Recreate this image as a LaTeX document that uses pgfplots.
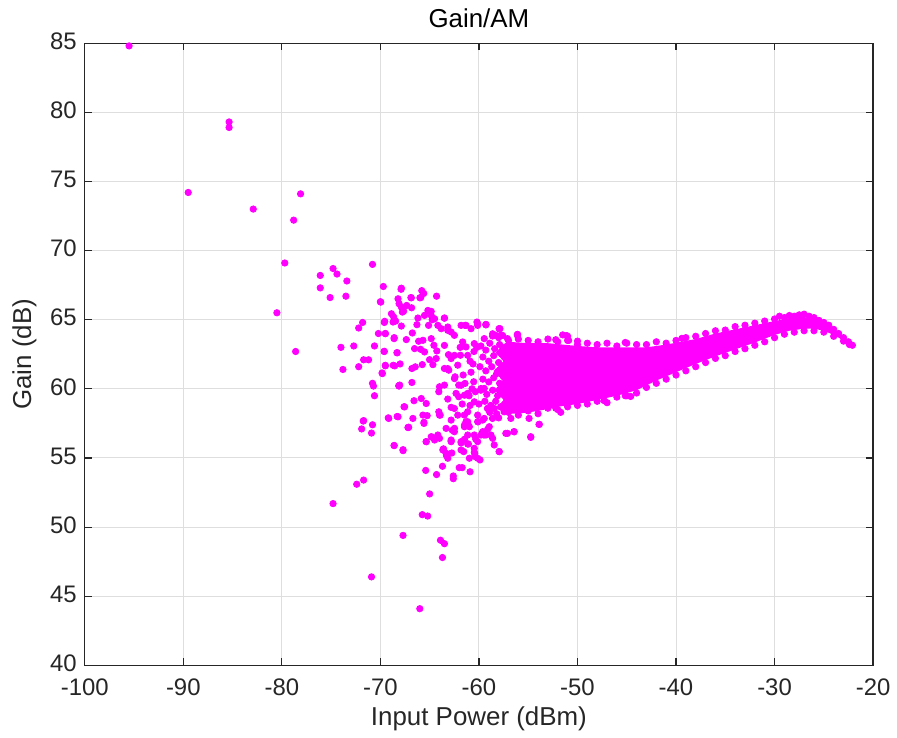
\documentclass[border=0pt]{standalone}
\usepackage{pgfplots}
\pgfplotsset{compat=1.18}
\usepackage{fontspec}
\setmainfont{Liberation Sans}
\definecolor{axgray}{gray}{0.15}
\definecolor{mg}{rgb}{1,0,1}
\begin{document}
\begin{tikzpicture}
\begin{axis}[
 scale only axis, width=395.8pt, height=312.4pt,
 xmin=-100,xmax=-20,ymin=40,ymax=85,
 xtick={-100,-90,...,-20}, ytick={40,45,...,85},
 tick align=inside, major tick length=3.5pt,
 grid=major, grid style={black!13, line width=0.5pt},
 axis line style={axgray, line width=0.6pt},
 tick style={axgray, line width=0.6pt},
 ticklabel style={font=\fontsize{12}{14}\selectfont, text=axgray},
 xticklabel style={yshift=-3pt},
 yticklabel style={xshift=-0.5pt, yshift=1pt},
 /pgf/number format/assume math mode=true,
 xlabel={Input Power (dBm)}, ylabel={Gain (dB)},
 xlabel style={yshift=1pt},
 label style={font=\fontsize{13}{15}\selectfont, text=axgray},
 title={Gain/AM}, title style={font=\fontsize{13}{15}\selectfont, yshift=-2pt},
 clip=false,
]
\path (axis cs:-108.6,35.31) rectangle (axis cs:-18.0,88.12);
% dense core of the cloud
\addplot[fill=mg, draw=none] coordinates {
(-57.6,63.2) (-57,63.4) (-55,63.3) (-53,63.3) (-50,63.1) (-48,63.0) (-45,63.0) (-43,63.0) (-41,63.2) (-39.5,63.4) (-38,63.6) (-36,64.0) (-34,64.3) (-32,64.6) (-30,64.9) (-28.5,65.1) (-27,65.2) (-26,65.0) (-25,64.7) (-24,64.3) (-23,63.7) (-22.2,63.2)
(-22.2,63.1) (-23,63.5) (-24,63.9) (-25,64.2) (-26,64.35) (-27,64.35) (-28.5,64.2) (-30,63.9) (-32,63.35) (-34,62.85) (-36,62.35) (-38,61.8) (-40,61.2) (-42,60.6) (-44,59.9) (-46,59.5) (-48,59.2) (-50,58.9) (-52,58.7) (-54,58.4) (-56,58.2) (-57.3,58.2)
(-58.2,58.6) (-57.5,59.2) (-58.4,59.9) (-57.6,60.6) (-58.5,61.3) (-57.5,62.0) (-58.3,62.6)
} -- cycle;
% edge dots of the core
\addplot[only marks, mark=*, mark size=1.6pt, color=mg] coordinates {
(-58,63.7) (-57,63.5) (-56,63.6) (-55,63.5) (-54,63.4) (-53,63.6) (-52,63.4) (-51,63.5) (-50,63.2) (-49,63.3) (-48,63.2) (-47,63.3) (-46,63.1) (-45,63.3) (-44,63.2) (-43,63.2) (-42,63.4) (-41,63.3) (-40,63.5) (-39,63.7) (-38,63.8) (-37,64.0) (-36,64.2) (-35,64.25) (-34,64.5) (-33,64.6) (-32,64.75) (-31,64.9) (-30,65.05) (-29.5,65.25) (-29,65.15) (-28.5,65.3) (-28,65.25) (-27.5,65.35) (-27,65.4) (-26.5,65.25) (-26,65.15) (-25.5,64.95) (-25,64.8) (-24.5,64.6) (-24,64.3) (-23.5,64.0) (-23,63.7) (-22.5,63.4) (-22.1,63.15)
(-58,57.9) (-57,58.3) (-56,58.1) (-55,58.4) (-54,58.2) (-53,58.6) (-52,58.5) (-51,58.7) (-50,58.8) (-49,58.9) (-48,59.1) (-47,59.0) (-46,59.4) (-45,59.5) (-44,59.7) (-43,60.1) (-42,60.4) (-41,60.7) (-40,61.0) (-39,61.3) (-38,61.6) (-37,61.9) (-36,62.2) (-35,62.4) (-34,62.7) (-33,62.9) (-32,63.15) (-31,63.4) (-30,63.7) (-29,63.95) (-28,64.1) (-27,64.2) (-26,64.2) (-25,64.1) (-24,63.8) (-23,63.45) (-22.4,63.2)
(-51.5,63.9) (-51.1,63.85) (-50.9,63.5) (-50.0,63.45) (-45.15,63.35) (-39.4,63.65) (-52.2,63.55) (-51.0,63.8)
(-51.7,58.3) (-52.2,58.6) (-53.4,58.8) (-44.6,59.45) (-45.15,59.5) (-47.3,59.15)
(-59.8,63.1) (-59.3,62.8) (-58.9,63.3) (-58.4,62.9) (-57.9,63.2)
(-59.6,62.3) (-59.0,62.0) (-58.5,62.4) (-58.0,61.9) (-57.6,62.5)
(-59.9,61.6) (-59.3,61.3) (-58.7,61.6) (-58.2,61.1) (-57.7,61.4)
(-59.6,60.7) (-59.0,60.5) (-58.5,60.8) (-57.9,60.4) (-57.5,60.9)
(-59.8,59.9) (-59.2,59.6) (-58.6,59.9) (-58.1,59.5) (-57.6,59.9)
(-59.4,59.1) (-58.8,58.8) (-58.3,59.1) (-57.8,58.7) (-58.9,58.3) (-58.2,58.2)
(-60.6,61.8) (-60.7,60.0) (-61.0,59.5) (-60.5,62.7)
};
% scattered points
\addplot[only marks, mark=*, mark size=1.6pt, color=mg] coordinates {
(-95.5,84.8) (-85.35,79.3) (-85.35,78.9) (-89.5,74.2) (-82.9,73.0) (-78.1,74.1) (-78.8,72.2) (-79.7,69.1)
(-74.8,68.7) (-74.4,68.3) (-76.1,68.2) (-70.8,69.0) (-73.4,67.8) (-76.1,67.3) (-75.1,66.6) (-73.5,66.7)
(-80.5,65.5) (-78.6,62.7) (-69.7,67.4) (-67.9,67.2) (-70.0,66.3) (-74.0,63.0) (-72.7,63.1) (-72.2,64.4)
(-71.8,64.8) (-70.2,64.0) (-70.6,63.1) (-71.7,62.1) (-71.2,62.1) (-72.2,61.6) (-73.8,61.4) (-70.8,60.4)
(-70.7,60.2) (-70.6,59.5) (-69.8,61.1) (-69.6,64.8) (-69.5,64.0) (-69.6,62.7) (-69.5,61.7) (-68.6,63.7)
(-68.7,61.7) (-68.0,61.8) (-68.3,62.6) (-68.1,60.2) (-67.6,58.7) (-69.2,57.9) (-68.3,58.0) (-67.2,57.2)
(-71.7,57.7) (-70.8,57.4) (-71.9,57.1) (-70.9,56.8) (-68.6,55.9) (-67.7,55.6) (-66.9,66.6) (-65.9,66.6)
(-65.8,67.1) (-65.6,66.9) (-64.3,66.7) (-72.4,53.1) (-71.7,53.4) (-74.8,51.7) (-70.9,46.4) (-66.0,44.1)
(-67.7,49.4) (-63.9,49.05) (-63.5,48.8) (-63.7,47.8) (-65.75,50.9) (-65.2,50.8) (-65.0,52.4) (-65.4,54.1)
(-63.7,54.4) (-64.3,53.8) (-62.6,53.7) (-62.6,53.5) (-62.0,54.3) (-61.7,54.3) (-60.9,54.0)
(-67.87,67.28) (-69.96,66.27) (-68.21,66.51) (-68.1,66.15) (-67.87,65.91) (-67.64,65.62) (-67.77,65.55)
(-66.86,66.58) (-67.33,66.03) (-65.99,66.58) (-66.83,65.86) (-68.88,65.43) (-68.65,65.19) (-68.45,64.9)
(-68.71,64.83) (-69.56,64.88) (-69.49,63.99) (-69.62,62.71) (-69.49,61.66) (-69.83,61.15) (-68.55,61.66)
(-68.31,62.62) (-68.61,63.63) (-67.37,63.56) (-67.87,64.54) (-66.19,65.12) (-66.29,64.64) (-65.52,65.31)
(-64.84,65.6) (-65.11,64.59) (-64.74,65.0) (-64.17,64.59) (-63.83,64.35) (-63.5,65.12) (-66.76,64.04)
(-66.12,63.44) (-65.92,62.86) (-65.52,62.67) (-65.68,63.51) (-66.53,62.91) (-64.84,63.63) (-64.57,63.15)
(-64.27,62.74) (-64.34,62.19) (-64.67,61.75) (-65.01,62.11) (-66.8,61.47) (-66.46,61.59) (-65.75,61.75)
(-66.8,60.46) (-68.04,60.27) (-68.14,60.22) (-66.59,59.14) (-65.85,59.3) (-65.35,58.94) (-67.54,58.7)
(-68.21,57.98) (-69.15,57.86) (-67.13,57.22) (-66.7,57.86) (-65.68,58.1) (-65.25,58.06) (-65.58,57.58)
(-64.07,58.34) (-63.93,58.1) (-62.82,58.66) (-63.16,59.26) (-64.0,60.15) (-64.07,59.79) (-64.84,56.54)
(-64.17,56.66) (-64.0,56.42) (-65.35,56.18) (-63.33,57.14) (-62.82,56.3) (-62.49,56.9) (-68.61,55.9)
(-67.7,55.53) (-63.6,55.65) (-63.33,55.34) (-61.81,56.09) (-61.14,56.01) (-60.43,55.34) (-62.49,58.58)
(-62.15,58.1) (-61.48,58.1) (-61.14,58.34) (-61.31,57.62) (-61.07,57.38) (-60.13,57.62) (-60.13,58.1)
(-63.09,62.47) (-62.82,62.19) (-61.88,62.43) (-62.15,61.71) (-63.06,61.35) (-62.42,60.87) (-62.05,60.27)
(-61.41,60.39) (-60.53,60.51) (-63.5,60.27) (-63.5,61.47) (-62.32,59.67) (-62.05,59.43) (-61.14,59.67)
(-60.36,59.79) (-59.46,60.03) (-63.16,64.23) (-62.49,63.87) (-61.41,64.59) (-60.8,64.35) (-60.13,64.71)
(-59.29,64.64) (-57.87,64.35) (-58.28,63.87) (-56.09,63.92) (-61.65,63.39) (-61.31,63.03) (-60.47,63.27)
(-59.46,63.63) (-58.62,63.82) (-58.78,56.66) (-58.45,55.94) (-57.94,55.46) (-57.27,56.78) (-56.43,56.9)
(-54.91,57.86) (-53.9,57.43) (-54.74,56.54) (-59.62,56.9) (-59.29,56.66) (-60.13,56.18) (-60.47,56.66)
(-60.97,57.26) (-59.12,58.58) (-58.45,58.58) (-59.46,57.86) (-58.62,57.86) (-57.44,58.34) (-56.76,57.86)
(-71.74,57.67) (-67.17,57.21) (-65.58,57.5) (-65.35,56.18) (-64.74,56.49) (-64.5,56.3) (-63.6,55.65)
(-63.29,55.17) (-62.75,55.36) (-62.82,56.23) (-62.69,57.0) (-61.81,55.58) (-61.54,55.46) (-61.47,56.35)
(-61.07,56.01) (-60.47,55.41) (-60.4,55.1) (-59.89,54.86) (-60.33,56.37) (-60.09,57.62) (-59.49,56.66)
(-59.12,57.07) (-57.94,55.46) (-54.74,56.49) (-53.87,57.43) (-59.62,57.74) (-58.95,57.26) (-61.47,57.26)
(-61.14,57.62) (-65.18,65.67) (-64.84,65.31) (-63.5,65.11) (-64.5,65.07) (-63.16,64.47) (-62.82,64.11)
(-61.81,64.59) (-61.31,64.59) (-60.13,64.59) (-59.29,64.63) (-57.94,64.35) (-56.09,63.86) (-57.6,63.86)
(-58.61,63.98) (-64,58.1) (-62.82,57.74) (-62.48,57.14) (-61.47,57.38) (-61.14,56.66) (-61.81,56.18)
(-60.47,55.7) (-60.13,54.98) (-62.82,56.18) (-63.66,55.58) (-63.16,54.98) (-60.97,54.98) (-59.79,56.66)
(-58.61,56.42) (-62.48,60.74) (-61.81,60.26) (-63.16,61.46) (-61.47,59.54) (-59.79,60.02) (-60.47,59.06)
(-59.12,58.58) (-61.14,62.42) (-62.48,62.42) (-63.5,63.14) (-59.29,64.66) (-60.2,64.83) (-57.94,64.35)
(-56.09,63.94) (-57.77,63.87) (-57.1,63.63) (-57.1,56.78) (-56.43,56.9)
(-60.8,61.2) (-61.6,61.0) (-60.9,62.0) (-61.9,63.0) (-60.2,63.0) (-60.9,58.8) (-60.0,58.9) (-61.7,58.9)
};
\end{axis}
\end{tikzpicture}
\end{document}
